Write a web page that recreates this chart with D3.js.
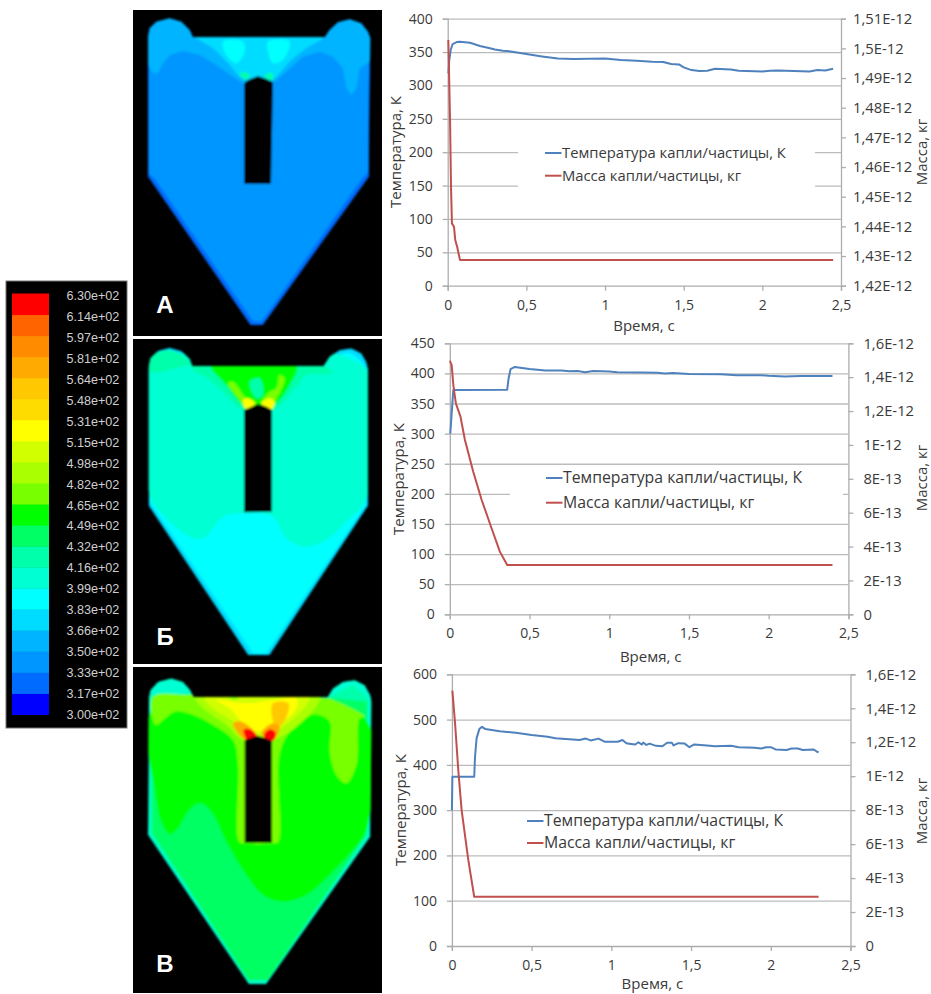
<!DOCTYPE html>
<html>
<head>
<meta charset="utf-8">
<script src="https://cdn.jsdelivr.net/npm/d3@7"></script>
<style>
    body { margin: 0; background: #fff; }
    svg { display: block; }
    text { font-family: "Open Sans", sans-serif; fill: #3a3a3a; }
    .curve { fill: none; stroke-width: 2; stroke-linejoin: round; }
    .grid line { stroke: #bcbcbc; stroke-width: 1.3; }
    .grid path { display: none; }
    .axis path, .axis line { stroke: #adadad; stroke-width: 1.3; }
    .axis text { font-size: 14px; }
    .title { font-size: 15px; }
</style>
</head>
<body>
<div id="chart"></div>
<script>
// colour bar
var levels = [300, 317, 333, 350, 366, 383, 399, 416, 432, 449, 465, 482, 498, 515, 531, 548, 564, 581, 597, 614];
var levelLabels = ["3.00e+02", "3.17e+02", "3.33e+02", "3.50e+02", "3.66e+02", "3.83e+02", "3.99e+02", "4.16e+02", "4.32e+02",
    "4.49e+02", "4.65e+02", "4.82e+02", "4.98e+02", "5.15e+02", "5.31e+02", "5.48e+02", "5.64e+02", "5.81e+02", "5.97e+02", "6.14e+02", "6.30e+02"];
var levelColors = ["#0000ff", "#006cff", "#0096ff", "#00b4ff", "#00dcff", "#00ffff", "#00ffd2", "#00ffaa", "#00ff64", "#00ff00",
    "#78ff00", "#aaff00", "#d2ff00", "#ffff00", "#ffdc00", "#ffc800", "#ffaa00", "#ff8c00", "#ff6400", "#ff0000"];

// chart axes
var timeTicks = [0, 0.5, 1, 1.5, 2, 2.5];
var timeLabels = ["0", "0,5", "1", "1,5", "2", "2,5"];
var tempTicksA = [0, 50, 100, 150, 200, 250, 300, 350, 400];
var tempTicksB = [0, 50, 100, 150, 200, 250, 300, 350, 400, 450];
var tempTicksC = [0, 100, 200, 300, 400, 500, 600];
var massTicksA = [1.42e-12, 1.43e-12, 1.44e-12, 1.45e-12, 1.46e-12, 1.47e-12, 1.48e-12, 1.49e-12, 1.5e-12, 1.51e-12];
var massLabelsA = ["1,42E-12", "1,43E-12", "1,44E-12", "1,45E-12", "1,46E-12", "1,47E-12", "1,48E-12", "1,49E-12", "1,5E-12", "1,51E-12"];
var massTicksB = [0, 2e-13, 4e-13, 6e-13, 8e-13, 1e-12, 1.2e-12, 1.4e-12, 1.6e-12];
var massLabelsB = ["0", "2E-13", "4E-13", "6E-13", "8E-13", "1E-12", "1,2E-12", "1,4E-12", "1,6E-12"];

// series, chart A
var tempTimeA = [0.004, 0.01, 0.019, 0.031, 0.057, 0.078, 0.142, 0.205, 0.269, 0.3, 0.35, 0.4, 0.5, 0.6, 0.7, 0.8, 0.9, 1.0, 1.1, 1.2, 1.3, 1.37, 1.42, 1.47, 1.5, 1.55, 1.6, 1.65, 1.7, 1.8, 1.85, 2.0, 2.05, 2.1, 2.3, 2.35, 2.4, 2.45];
var tempA = [318, 338, 353, 362, 365, 365.3, 364, 359, 355.7, 354, 352, 351, 347, 343.5, 340.5, 339.5, 340, 340.5, 338, 337, 335.5, 335, 332, 331.5, 327, 323, 321.5, 322, 325, 324, 322, 321, 322, 322.5, 321, 323, 322.5, 325];
var massTimeA = [0.004, 0.015, 0.021, 0.027, 0.04, 0.048, 0.06, 0.078, 2.45];
var massA = [1.5028e-12, 1.4758e-12, 1.4534e-12, 1.441e-12, 1.4399e-12, 1.4354e-12, 1.4331e-12, 1.4287e-12, 1.4287e-12];

// series, chart B
var tempTimeB = [0.003, 0.022, 0.36, 0.369, 0.381, 0.408, 0.43, 0.5, 0.6, 0.7, 0.75, 0.8, 0.85, 0.9, 1, 1.05, 1.2, 1.3, 1.35, 1.4, 1.5, 1.7, 1.8, 1.95, 2, 2.1, 2.2, 2.4];
var tempB = [300, 372.5, 373, 392, 407, 410.7, 410, 407.5, 405, 405, 403.5, 404, 402, 404, 403, 402, 401.5, 401, 400, 400.5, 399, 398.5, 397, 397, 396, 395, 395.5, 395.5];
var massTimeB = [0.001, 0.012, 0.022, 0.038, 0.067, 0.095, 0.147, 0.2, 0.262, 0.314, 0.36, 2.4];
var massB = [1.497e-12, 1.47e-12, 1.354e-12, 1.245e-12, 1.167e-12, 1.029e-12, 8.42e-13, 6.75e-13, 5.08e-13, 3.7e-13, 2.91e-13, 2.91e-13];

// series, chart C
var tempTimeC = [0, 0.003, 0.14, 0.145, 0.155, 0.172, 0.189, 0.21, 0.3, 0.4, 0.5, 0.6, 0.65, 0.8, 0.84, 0.87, 0.92, 0.96, 1.04, 1.07, 1.09, 1.1, 1.15, 1.17, 1.19, 1.2, 1.22, 1.24, 1.28, 1.32, 1.35, 1.38, 1.39, 1.42, 1.46, 1.49, 1.52, 1.6, 1.65, 1.75, 1.8, 1.9, 1.94, 1.97, 2, 2.03, 2.1, 2.13, 2.17, 2.2, 2.27, 2.29, 2.3];
var tempC = [300, 373.5, 373.8, 418, 459, 479, 484, 479, 474, 471, 466, 462, 459, 455, 458, 454, 458, 451, 451, 455, 449, 447, 445, 450, 445, 449, 444, 447, 442, 441, 449, 449, 443, 448, 447, 439, 445, 443, 441, 442, 439, 438, 436, 439, 439, 434, 433, 436, 436, 433, 434, 429, 428];
var massTimeC = [0.003, 0.02, 0.04, 0.061, 0.103, 0.14, 2.3];
var massC = [1.504e-12, 1.31e-12, 1.036e-12, 8e-13, 5.06e-13, 2.9e-13, 2.9e-13];

// temperature field of each section: outline, insert and contours in picture units of the panel
var outlineA = [[45, 95], [50, 70], [70, 50], [110, 40], [145, 50], [170, 75], [180, 97], [575, 97], [590, 75], [615, 52], [650, 43], [685, 55], [705, 80], [712, 100], [708, 515], [390, 960], [352, 960], [45, 515]];
var insertA = [[333, 537], [333, 235], [345, 225], [375, 213], [400, 222], [420, 232], [414, 537]];
var baseA = 325;
var contoursA = [
    { t: 340, smooth: false, pts: [[47, 100], [47, 505], [66, 522], [360, 948], [385, 950], [680, 530], [705, 500], [708, 100]] },
    { t: 355, smooth: false, pts: [[20, 170], [40, 170], [60, 205], [75, 205], [90, 175], [110, 150], [150, 138], [200, 150], [250, 180], [300, 215], [333, 238], [420, 235], [460, 200], [510, 155], [560, 140], [600, 155], [630, 190], [640, 250], [655, 270], [670, 250], [680, 190], [710, 170], [730, 100], [730, 20], [20, 20]] },
    { t: 370, smooth: true, pts: [[185, 92], [240, 130], [290, 180], [335, 225], [415, 225], [470, 170], [520, 130], [575, 92]] },
    { t: 390, smooth: true, pts: [[270, 110], [330, 110], [335, 140], [310, 175], [280, 150]] },
    { t: 390, smooth: true, pts: [[405, 110], [470, 110], [450, 165], [420, 175], [405, 140]] },
    { t: 425, smooth: true, pts: [[335, 224], [350, 214], [345, 205], [320, 205]] },
    { t: 425, smooth: true, pts: [[395, 215], [420, 225], [418, 205], [405, 205]] }
];

var outlineB = [[47, 95], [52, 70], [75, 47], [110, 38], [145, 48], [170, 72], [178, 93], [572, 93], [590, 65], [620, 45], [655, 40], [685, 55], [700, 80], [705, 100], [705, 512], [410, 960], [345, 960], [47, 512]];
var insertB = [[333, 532], [333, 225], [350, 218], [375, 207], [400, 215], [417, 225], [417, 530]];
var baseB = 370;
var contoursB = [
    { t: 390, smooth: false, pts: [[50, 500], [360, 955], [400, 955], [698, 510], [698, 100], [50, 100]] },
    { t: 390, smooth: true, pts: [[575, 100], [600, 72], [650, 55], [695, 100]] },
    { t: 405, smooth: true, pts: [[50, 100], [50, 480], [90, 540], [170, 605], [210, 610], [240, 580], [270, 545], [330, 535], [420, 545], [460, 610], [510, 635], [570, 620], [640, 560], [700, 490], [700, 100]] },
    { t: 425, smooth: true, pts: [[50, 110], [55, 65], [110, 45], [165, 75], [185, 110], [210, 120], [260, 160], [330, 225], [420, 225], [490, 155], [520, 120], [600, 115], [560, 90], [180, 90]] },
    { t: 455, smooth: true, pts: [[235, 90], [490, 90], [470, 150], [420, 210], [335, 210], [280, 150]] },
    { t: 425, smooth: true, pts: [[350, 140], [380, 130], [390, 180], [370, 190]] },
    { t: 470, smooth: true, pts: [[285, 145], [300, 140], [340, 190], [370, 205], [340, 222], [320, 195]] },
    { t: 470, smooth: true, pts: [[385, 205], [410, 170], [430, 160], [440, 120], [455, 130], [445, 165], [425, 200], [418, 222]] },
    { t: 525, smooth: true, pts: [[330, 195], [345, 190], [365, 205], [340, 222]] },
    { t: 525, smooth: true, pts: [[385, 205], [410, 190], [425, 200], [415, 222]] }
];

var outlineC = [[47, 100], [52, 75], [75, 50], [115, 40], [150, 50], [172, 75], [182, 97], [583, 97], [600, 70], [630, 50], [665, 45], [695, 60], [712, 90], [716, 110], [712, 515], [400, 957], [347, 957], [45, 510]];
var insertC = [[335, 533], [335, 225], [350, 220], [372, 212], [395, 218], [417, 228], [417, 533]];
var baseC = 405;
var contoursC = [
    { t: 425, smooth: false, pts: [[52, 90], [52, 505], [350, 950], [400, 950], [705, 510], [705, 100], [660, 60], [610, 85], [580, 97], [180, 97], [150, 90], [70, 90]] },
    { t: 440, smooth: false, pts: [[60, 95], [58, 505], [345, 945], [405, 945], [698, 512], [702, 110], [600, 100], [180, 95]] },
    { t: 455, smooth: true, pts: [[60, 130], [70, 400], [85, 470], [110, 508], [135, 490], [165, 440], [200, 415], [235, 440], [280, 530], [340, 630], [390, 690], [450, 710], [520, 690], [600, 620], [680, 530], [702, 490], [702, 170], [400, 90]] },
    { t: 470, smooth: true, pts: [[60, 95], [68, 180], [90, 165], [125, 140], [175, 148], [240, 180], [300, 225], [315, 300], [318, 530], [335, 535], [420, 535], [436, 530], [438, 280], [460, 215], [510, 165], [545, 148], [590, 170], [590, 260], [610, 330], [640, 355], [670, 300], [680, 160], [695, 155], [600, 105], [560, 97], [180, 90]] },
    { t: 490, smooth: true, pts: [[186, 95], [205, 125], [286, 185], [330, 225], [420, 225], [490, 185], [545, 130], [560, 95]] },
    { t: 505, smooth: true, pts: [[215, 95], [240, 130], [300, 170], [340, 205], [410, 205], [470, 170], [520, 120], [530, 95]] },
    { t: 525, smooth: true, pts: [[250, 105], [290, 130], [320, 165], [345, 195], [400, 195], [450, 170], [490, 130], [490, 100], [420, 105], [340, 115]] },
    { t: 470, smooth: true, pts: [[285, 95], [320, 95], [305, 104]] },
    { t: 555, smooth: true, pts: [[420, 115], [466, 115], [456, 165], [432, 188], [418, 160]] },
    { t: 575, smooth: true, pts: [[300, 175], [325, 170], [365, 205], [340, 225], [320, 210]] },
    { t: 575, smooth: true, pts: [[385, 205], [420, 175], [440, 185], [430, 215], [418, 225]] },
    { t: 620, smooth: true, pts: [[332, 194], [354, 194], [372, 214], [345, 228]] },
    { t: 620, smooth: true, pts: [[392, 212], [410, 193], [428, 203], [420, 228], [405, 226]] }
];

var svg = d3.select("#chart").append("svg").attr("width", 931).attr("height", 994);
var defs = svg.append("defs");
defs.append("filter").attr("id", "soft").append("feGaussianBlur").attr("stdDeviation", 1.1);

var fieldColor = d3.scaleThreshold().domain(levels.slice(1)).range(levelColors);

// colour bar panel
function draw_colorbar() {
    var g = svg.append("g");
    g.append("rect").attr("x", 6).attr("y", 281).attr("width", 121).attr("height", 447)
        .attr("fill", "#000").attr("stroke", "#777");
    var y = d3.scaleLinear().domain([0, levels.length]).range([714.5, 293.5]);
    g.selectAll("rect.band").data(levels).enter().append("rect")
        .attr("class", "band")
        .attr("x", 12).attr("width", 37)
        .attr("y", function (d, i) { return y(i + 1); })
        .attr("height", function (d, i) { return y(i) - y(i + 1) + 0.5; })
        .attr("fill", function (d) { return fieldColor(d); });
    g.selectAll("text").data(levelLabels).enter().append("text")
        .attr("x", 66.5)
        .attr("y", function (d, i) { return y(i) + (i / 20) * 2 + 4.5; })
        .text(function (d) { return d; })
        .style("font-family", "'Liberation Sans', sans-serif")
        .style("font-size", "12.6px")
        .style("fill", "#cfcfcf");
}

// one black panel with the section
function draw_section(id, top, height, outline, insert, base, contours, letter, letterY) {
    svg.append("rect").attr("x", 133).attr("y", top).attr("width", 249).attr("height", height).attr("fill", "#000");
    var yTop = id == "C" ? 665 : (id == "B" ? 335 : 5);
    var x = d3.scaleLinear().domain([0, 750]).range([133, 383]);
    var y = d3.scaleLinear().domain([0, 1005]).range([yTop, yTop + 335]);
    var flat = d3.line().x(function (d) { return x(d[0]); }).y(function (d) { return y(d[1]); });
    var round = d3.line().x(function (d) { return x(d[0]); }).y(function (d) { return y(d[1]); }).curve(d3.curveCatmullRomClosed.alpha(0.5));

    defs.append("clipPath").attr("id", "clip" + id).append("path").attr("d", flat(outline) + "Z");

    var g = svg.append("g").attr("filter", "url(#soft)");
    var inner = g.append("g").attr("clip-path", "url(#clip" + id + ")");
    inner.append("path").attr("d", flat(outline) + "Z").attr("fill", fieldColor(base));
    for (var i = 0; i < contours.length; i++) {
        var c = contours[i];
        inner.append("path")
            .attr("d", c.smooth ? round(c.pts) : flat(c.pts) + "Z")
            .attr("fill", fieldColor(c.t));
    }
    g.append("path").attr("d", flat(insert) + "Z").attr("fill", "#000");

    svg.append("text").attr("x", 165).attr("y", letterY).attr("text-anchor", "middle")
        .text(letter)
        .style("font-family", "'Liberation Sans', sans-serif")
        .style("font-weight", "bold")
        .style("font-size", "24px")
        .style("fill", "#fff");
}

function draw_chart(opt) {
    var x = d3.scaleLinear().domain([0, 2.5]).range([opt.left, opt.right]);
    var y = d3.scaleLinear().domain(opt.tempDomain).range([opt.bottom, opt.top]);
    var y2 = d3.scaleLinear().domain(opt.massDomain).range([opt.bottom, opt.top]);
    var g = svg.append("g");

    // gridlines
    g.append("g").attr("class", "grid")
        .attr("transform", "translate(" + opt.left + ",0)")
        .call(d3.axisLeft(y).tickValues(opt.tempTicks.slice(1)).tickSize(opt.left - opt.right).tickFormat(""));

    // gap that the legend box cut into the gridlines
    if (opt.legendBox) {
        g.append("rect").attr("x", opt.legendBox[0]).attr("y", opt.legendBox[1])
            .attr("width", opt.legendBox[2]).attr("height", opt.legendBox[3]).attr("fill", "#fff");
    }

    g.append("g").attr("class", "axis")
        .attr("transform", "translate(0," + opt.bottom + ")")
        .call(d3.axisBottom(x).tickValues(timeTicks).tickSize(5).tickPadding(9)
            .tickFormat(function (d, i) { return timeLabels[i]; }));
    g.append("g").attr("class", "axis")
        .attr("transform", "translate(" + opt.left + ",0)")
        .call(d3.axisLeft(y).tickValues(opt.tempTicks).tickSize(5).tickPadding(opt.leftPad));
    g.append("g").attr("class", "axis")
        .attr("transform", "translate(" + opt.right + ",0)")
        .call(d3.axisRight(y2).tickValues(opt.massTicks).tickSize(5).tickPadding(opt.rightPad)
            .tickFormat(function (d, i) { return opt.massLabels[i]; }))
        .selectAll("text").style("font-size", "14.8px");

    var line = d3.line().x(function (d) { return x(d[0]); });
    g.append("path").attr("class", "curve").attr("stroke", "#4f81bd")
        .attr("d", line.y(function (d) { return y(d[1]); })(d3.zip(opt.tempTime, opt.temp)));
    g.append("path").attr("class", "curve").attr("stroke", "#c0504d")
        .attr("d", line.y(function (d) { return y2(d[1]); })(d3.zip(opt.massTime, opt.mass)));

    // axis titles
    g.append("text").attr("class", "title").attr("text-anchor", "middle")
        .attr("x", opt.xTitle[0]).attr("y", opt.xTitle[1]).text("Время, с");
    g.append("text").attr("class", "title").attr("text-anchor", "middle")
        .attr("transform", "translate(" + opt.yTitle[0] + "," + opt.yTitle[1] + ") rotate(-90)").text("Температура, К");
    g.append("text").attr("class", "title").attr("text-anchor", "middle")
        .attr("transform", "translate(" + opt.y2Title[0] + "," + opt.y2Title[1] + ") rotate(-90)").text("Масса, кг");

    // legend
    var names = ["Температура капли/частицы, К", "Масса капли/частицы, кг"];
    var colors = ["#4f81bd", "#c0504d"];
    for (var i = 0; i < names.length; i++) {
        g.append("line").attr("x1", opt.legend[0]).attr("x2", opt.legend[0] + 16.5)
            .attr("y1", opt.legend[1 + i]).attr("y2", opt.legend[1 + i])
            .attr("stroke", colors[i]).attr("stroke-width", 2);
        g.append("text").attr("x", opt.legend[0] + 17).attr("y", opt.legend[1 + i] + 5)
            .style("font-size", opt.legendSize + "px").text(names[i]);
    }
}

draw_colorbar();
draw_section("A", 10, 326, outlineA, insertA, baseA, contoursA, "А", 313);
draw_section("B", 339, 325, outlineB, insertB, baseB, contoursB, "Б", 645);
draw_section("C", 667, 326, outlineC, insertC, baseC, contoursC, "В", 972);

draw_chart({
    left: 447.7, right: 841, top: 18.7, bottom: 285.7, leftPad: 10, rightPad: 7,
    tempDomain: [0, 400], massDomain: [1.42e-12, 1.51e-12],
    tempTicks: tempTicksA, massTicks: massTicksA, massLabels: massLabelsA,
    tempTime: tempTimeA, temp: tempA, massTime: massTimeA, mass: massA,
    xTitle: [644, 331], yTitle: [401, 152], y2Title: [927, 152],
    legend: [545, 153, 175.7], legendBox: [518, 140, 297, 50], legendSize: 14.8
});
draw_chart({
    left: 449.8, right: 848.4, top: 343.3, bottom: 614.3, leftPad: 10, rightPad: 10,
    tempDomain: [0, 450], massDomain: [0, 1.6e-12],
    tempTicks: tempTicksB, massTicks: massTicksB, massLabels: massLabelsB,
    tempTime: tempTimeB, temp: tempB, massTime: massTimeB, mass: massB,
    xTitle: [650.7, 662], yTitle: [404, 479], y2Title: [927, 478],
    legend: [546, 478, 502.7], legendBox: [510, 470, 333, 46], legendSize: 15.8
});
draw_chart({
    left: 451.9, right: 850.5, top: 674.3, bottom: 946, leftPad: 10, rightPad: 10,
    tempDomain: [0, 600], massDomain: [0, 1.6e-12],
    tempTicks: tempTicksC, massTicks: massTicksB, massLabels: massLabelsB,
    tempTime: tempTimeC, temp: tempC, massTime: massTimeC, mass: massC,
    xTitle: [652.4, 989], yTitle: [406, 810], y2Title: [927, 811],
    legend: [527, 821, 843], legendSize: 15.8
});
</script>
</body>
</html>
